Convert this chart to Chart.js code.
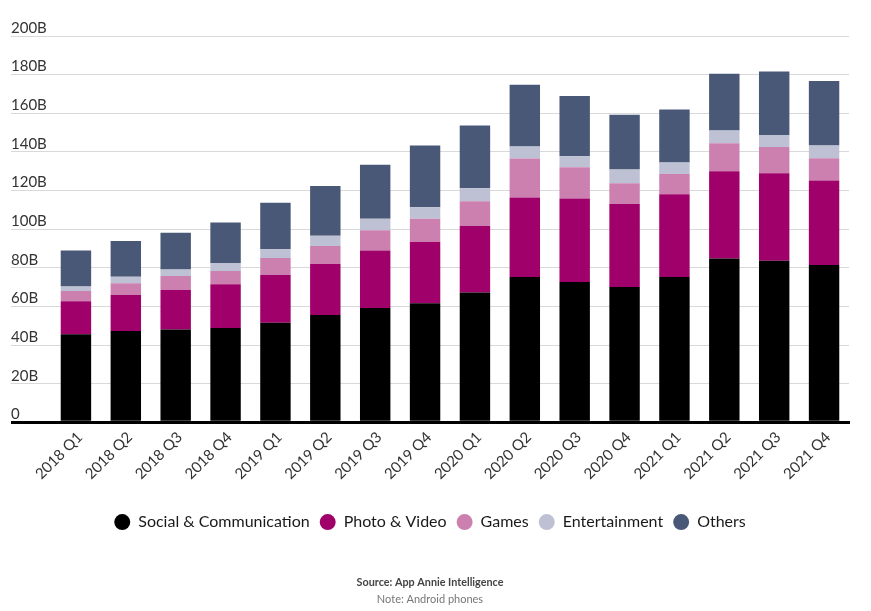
<!DOCTYPE html>
<html>
<head>
<meta charset="utf-8">
<script src="https://cdn.jsdelivr.net/npm/chart.js@4.4.1/dist/chart.umd.min.js"></script>
<style>
  html, body { margin: 0; padding: 0; background: #fff; }
</style>
</head>
<body>
<canvas id="myChart" width="871" height="611"></canvas>
<script>
// quarters along the x-axis
var quarters = ["2018 Q1", "2018 Q2", "2018 Q3", "2018 Q4",
                "2019 Q1", "2019 Q2", "2019 Q3", "2019 Q4",
                "2020 Q1", "2020 Q2", "2020 Q3", "2020 Q4",
                "2021 Q1", "2021 Q2", "2021 Q3", "2021 Q4"];

// spend per category, in billions (stacked bottom to top)
var social        = [45.6, 47.3, 48.1, 48.9, 51.5, 55.6, 59.2, 61.7, 67.2, 75.2, 72.6, 70.1, 75.2, 84.8, 83.7, 81.4];
var photoVideo    = [17.1, 18.6, 20.4, 22.6, 24.8, 26.4, 29.7, 31.6, 34.4, 41.2, 43.3, 42.9, 42.9, 45.2, 45.3, 43.8];
var games         = [5.3, 6.1, 7.3, 6.8, 8.8, 9.3, 10.6, 12.1, 12.9, 20.2, 16.2, 10.8, 10.4, 14.5, 13.6, 11.5];
var entertainment = [2.3, 3.4, 3.3, 4.2, 4.5, 5.3, 5.9, 6.0, 6.7, 6.2, 5.7, 7.1, 6.0, 6.6, 6.2, 6.6];
var others        = [18.7, 18.5, 19.1, 20.9, 24.1, 25.7, 27.9, 31.9, 32.5, 31.9, 31.2, 28.3, 27.4, 29.4, 32.8, 33.4];

Chart.defaults.font.family = "Lato, 'Open Sans', sans-serif";

function bars(label, values, color) {
  return {
    label: label,
    data: values,
    backgroundColor: color,
    borderWidth: 0,
    barPercentage: 0.61,
    categoryPercentage: 1,
  };
}

// setup
const data = {
  labels: quarters,
  datasets: [
    bars("Social & Communication", social, "#000000"),
    bars("Photo & Video", photoVideo, "#a0006a"),
    bars("Games", games, "#cc80b0"),
    bars("Entertainment", entertainment, "#bec0d3"),
    bars("Others", others, "#4a5877"),
  ],
};

const isZero = (c) => c.tick && c.tick.value === 0;

// config
const config = {
  type: "bar",
  data,
  options: {
    responsive: false,
    animation: false,
    devicePixelRatio: 1,
    layout: { padding: { top: 36, left: 11, right: 22, bottom: 0 } },
    scales: {
      x: {
        stacked: true,
        offset: true,
        grid: { display: false, drawTicks: false },
        border: { display: true, color: "#000", width: 3, z: 1 },
        ticks: {
          minRotation: 45,
          maxRotation: 45,
          padding: 6,
          labelOffset: 4,
          color: "#333",
          font: { size: 15 },
        },
        afterFit: (s) => { s.height = 81.7; },
      },
      y: {
        stacked: true,
        min: 0,
        max: 200,
        border: { display: false },
        grid: {
          color: (c) => (isZero(c) ? "#000" : "#d9d9d9"),
          lineWidth: (c) => (isZero(c) ? 3 : 1),
          drawTicks: true,
          tickLength: 40,
        },
        ticks: {
          stepSize: 20,
          crossAlign: "far",
          padding: 0,
          labelOffset: -8,
          color: "#333",
          font: { size: 15 },
          callback: (v) => (v === 0 ? "0" : v + "B"),
        },
        afterFit: (s) => { s.width = 40; },
      },
    },
    plugins: {
      tooltip: { enabled: false },
      legend: {
        position: "bottom",
        labels: {
          usePointStyle: true,
          pointStyle: "circle",
          pointStyleWidth: 16,
          boxHeight: 11.3,
          padding: 10,
          color: "#1a1a1a",
          font: { size: 16 },
        },
      },
      subtitle: {
        display: true,
        position: "bottom",
        text: "Source: App Annie Intelligence",
        color: "#444",
        font: { size: 10.8, weight: "bold" },
        padding: { top: 36, bottom: 1.4 },
      },
      title: {
        display: true,
        position: "bottom",
        text: "Note: Android phones",
        color: "#777",
        font: { size: 11, weight: "normal" },
        padding: { top: 2, bottom: 5.4 },
      },
    },
  },
};

// render init block
const myChart = new Chart(document.getElementById("myChart"), config);
</script>
</body>
</html>
